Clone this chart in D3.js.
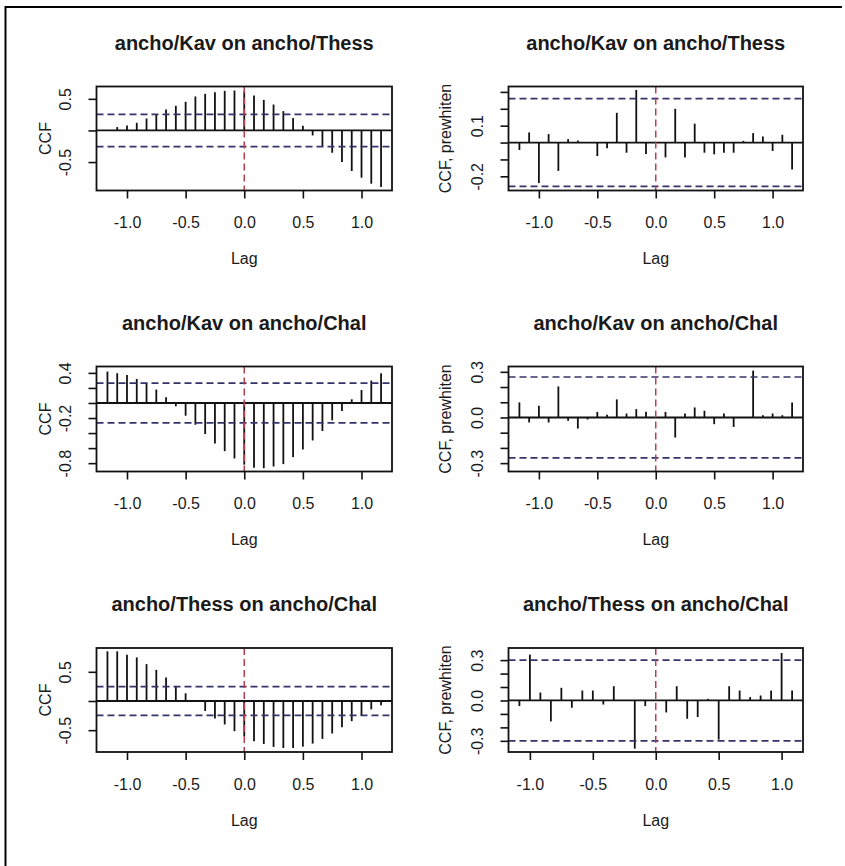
<!DOCTYPE html>
<html>
<head>
<meta charset="utf-8">
<title>CCF ancho</title>
<style>
  body { margin: 0; background: #fff; }
  svg text { font-family: "Liberation Sans", Arial, sans-serif; fill: #1a1a1a; }
</style>
</head>
<body>
<script src="https://cdn.jsdelivr.net/npm/d3@7/dist/d3.min.js"></script>
<script>

var width  = 845;
var height = 866;

// lags in months (plotted as lag/12)
var lags14 = [-14,-13,-12,-11,-10,-9,-8,-7,-6,-5,-4,-3,-2,-1,0,1,2,3,4,5,6,7,8,9,10,11,12,13,14];
var lags13 = [-13,-12,-11,-10,-9,-8,-7,-6,-5,-4,-3,-2,-1,0,1,2,3,4,5,6,7,8,9,10,11,12,13];

var titles = ["ancho/Kav on ancho/Thess", "ancho/Kav on ancho/Thess",
              "ancho/Kav on ancho/Chal",  "ancho/Kav on ancho/Chal",
              "ancho/Thess on ancho/Chal", "ancho/Thess on ancho/Chal"];
var ylabs = ["CCF", "CCF, prewhiten", "CCF", "CCF, prewhiten", "CCF", "CCF, prewhiten"];

var ccfKavThess = [0.0, 0.053, 0.079, 0.121, 0.189, 0.258, 0.332, 0.389, 0.453, 0.537, 0.579, 0.605, 0.626, 0.632,
                   0.62, 0.553, 0.484, 0.41, 0.305, 0.195, 0.074, -0.079, -0.247, -0.353, -0.5, -0.642, -0.747, -0.842, -0.895];
var pwKavThess  = [-0.044, 0.06, -0.24, 0.05, -0.168, 0.02, 0.012, 0.0, -0.08, -0.034, 0.176, -0.06, 0.312, -0.068,
                   0.0, -0.088, 0.2, -0.088, 0.112, -0.06, -0.07, -0.06, -0.06, 0.01, 0.056, 0.036, -0.05, 0.046, -0.16];
var ccfKavChal  = [0.418, 0.396, 0.373, 0.32, 0.267, 0.178, 0.076, -0.044, -0.169, -0.289, -0.413, -0.538, -0.64, -0.738,
                   -0.82, -0.862, -0.867, -0.844, -0.813, -0.72, -0.618, -0.498, -0.373, -0.231, -0.107, 0.049, 0.173, 0.298, 0.396];
var pwKavChal   = [0.099, -0.033, 0.077, -0.033, 0.204, -0.022, -0.073, -0.013, 0.037, 0.018, 0.119, 0.026, 0.055, 0.037,
                   0.0, 0.037, -0.132, 0.026, 0.066, 0.044, -0.044, 0.026, -0.062, 0.0, 0.308, 0.015, 0.026, 0.015, 0.099];
var ccfThessChal = [0.851, 0.851, 0.793, 0.747, 0.632, 0.534, 0.402, 0.259, 0.132, 0.0, -0.172, -0.299, -0.402, -0.517,
                    -0.6, -0.69, -0.736, -0.787, -0.805, -0.805, -0.782, -0.73, -0.649, -0.557, -0.448, -0.345, -0.247, -0.144, -0.075];
var pwThessChal  = [-0.042, 0.341, 0.059, -0.156, 0.094, -0.054, 0.074, 0.074, -0.03, 0.106, 0.0, -0.358, -0.042,
                    0.0, -0.089, 0.106, -0.136, -0.123, 0.012, -0.291, 0.106, 0.074, 0.025, 0.037, 0.074, 0.353, 0.074];

var clims = [0.255, 0.26, 0.265, 0.266, 0.247, 0.30];
var ylims = [[-0.95, 0.695], [-0.284, 0.332], [-0.911, 0.485], [-0.355, 0.335], [-0.874, 0.908], [-0.383, 0.39]];
var xlims = [1.26, 1.26, 1.26, 1.26, 1.26, 1.17];

var xTicks  = [-1, -0.5, 0, 0.5, 1];
var xLabels = ["-1.0", "-0.5", "0.0", "0.5", "1.0"];
var yTicks = [[-0.5, 0, 0.5], [-0.2, -0.1, 0, 0.1, 0.2, 0.3], [-0.8, -0.6, -0.4, -0.2, 0, 0.2, 0.4],
              [-0.3, -0.2, -0.1, 0, 0.1, 0.2, 0.3], [-0.5, 0, 0.5], [-0.3, -0.2, -0.1, 0, 0.1, 0.2, 0.3]];
var yLabels = [["-0.5", "", "0.5"], ["-0.2", "", "", "0.1", "", ""], ["-0.8", "", "", "-0.2", "", "", "0.4"],
               ["-0.3", "", "", "0.0", "", "", "0.3"], ["-0.5", "", "0.5"], ["-0.3", "", "", "0.0", "", "", "0.3"]];

var seriesList = [ccfKavThess, pwKavThess, ccfKavChal, pwKavChal, ccfThessChal, pwThessChal];
var lagList = [lags14, lags14, lags14, lags14, lags14, lags13];

// layout
var colLeft  = [96.5, 508.5];
var colRight = [392, 803];
var rowTop    = [86.5, 366.5, 648];
var rowBottom = [190.5, 471.5, 752];
var ylabX = [45, 445];

var svg = d3.select("body").append("svg")
  .attr("width", width)
  .attr("height", height);

// outer frame (top and left edges)
svg.append("line").attr("x1", 5).attr("x2", 842).attr("y1", 7).attr("y2", 7)
  .attr("stroke", "#000").attr("stroke-width", 2);
svg.append("line").attr("x1", 5.5).attr("x2", 5.5).attr("y1", 6).attr("y2", height)
  .attr("stroke", "#000").attr("stroke-width", 2);

seriesList.forEach(function(vals, i) {
  var col = i % 2, row = Math.floor(i / 2);
  var x0 = colLeft[col], x1 = colRight[col], y0 = rowTop[row], y1 = rowBottom[row];
  var lags = lagList[i];

  var x = d3.scaleLinear().domain([-xlims[i], xlims[i]]).range([x0, x1]);
  var y = d3.scaleLinear().domain(ylims[i]).range([y1, y0]);

  var g = svg.append("g");

  // bars
  g.selectAll("line.bar")
    .data(vals)
    .enter()
    .append("line")
    .attr("class", "bar")
    .attr("x1", function(d, j) { return x(lags[j] / 12); })
    .attr("x2", function(d, j) { return x(lags[j] / 12); })
    .attr("y1", y(0))
    .attr("y2", function(d) { return y(d); })
    .attr("stroke", "#111")
    .attr("stroke-width", 1.8);

  // zero line
  g.append("line").attr("x1", x0).attr("x2", x1).attr("y1", y(0)).attr("y2", y(0))
    .attr("stroke", "#111").attr("stroke-width", 1.8);

  // confidence limits
  [clims[i], -clims[i]].forEach(function(c) {
    g.append("line").attr("x1", x0).attr("x2", x1).attr("y1", y(c)).attr("y2", y(c))
      .attr("stroke", "#34346a").attr("stroke-width", 1.7).attr("stroke-dasharray", "7,4");
  });

  // lag 0 line
  g.append("line").attr("x1", x(0)).attr("x2", x(0)).attr("y1", y0).attr("y2", y1)
    .attr("stroke", "#b8404e").attr("stroke-width", 1.5).attr("stroke-dasharray", "7,4");

  // box
  g.append("rect").attr("x", x0).attr("y", y0).attr("width", x1 - x0).attr("height", y1 - y0)
    .attr("fill", "none").attr("stroke", "#111").attr("stroke-width", 1.8);

  // x axis
  var xa = g.append("g").attr("transform", "translate(0," + y1 + ")")
    .call(d3.axisBottom(x).tickValues(xTicks).tickSize(8)
      .tickFormat(function(d, j) { return xLabels[j]; }));
  xa.select(".domain").remove();
  xa.selectAll("line").attr("stroke", "#111").attr("stroke-width", 1.6);
  xa.selectAll("text").attr("y", 32).attr("dy", "0.35em")
    .style("font-size", "16px").style("font-family", "Liberation Sans, Arial, sans-serif").attr("fill", "#1a1a1a");

  // y axis
  var ya = g.append("g").attr("transform", "translate(" + x0 + ",0)")
    .call(d3.axisLeft(y).tickValues(yTicks[i]).tickSize(8)
      .tickFormat(function(d, j) { return yLabels[i][j]; }));
  ya.select(".domain").remove();
  ya.selectAll("line").attr("stroke", "#111").attr("stroke-width", 1.6);
  ya.selectAll("text").attr("x", 0).attr("y", 0).attr("dy", "0.35em")
    .attr("text-anchor", "middle")
    .attr("transform", "translate(-31,0) rotate(-90)")
    .style("font-size", "16px").style("font-family", "Liberation Sans, Arial, sans-serif").attr("fill", "#1a1a1a");

  // title
  g.append("text").attr("x", (x0 + x1) / 2).attr("y", y0 - 44).attr("dy", "0.35em")
    .attr("text-anchor", "middle").style("font-size", "20px").style("font-weight", "bold")
    .text(titles[i]);

  // axis labels
  g.append("text").attr("x", (x0 + x1) / 2).attr("y", y1 + 68).attr("dy", "0.35em")
    .attr("text-anchor", "middle").style("font-size", "16px").text("Lag");
  g.append("text").attr("transform", "translate(" + ylabX[col] + "," + ((y0 + y1) / 2) + ") rotate(-90)")
    .attr("dy", "0.35em").attr("text-anchor", "middle").style("font-size", "16px").text(ylabs[i]);
});

</script>
</body>
</html>
